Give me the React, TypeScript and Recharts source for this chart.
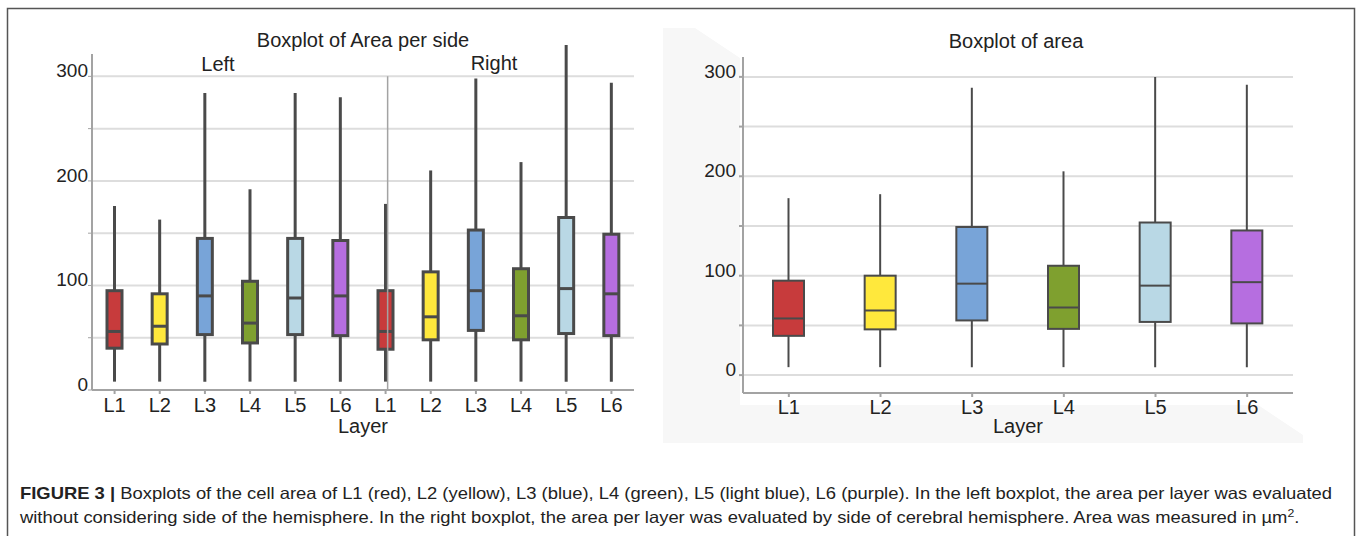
import React from "react";
import {
  Bar,
  CartesianGrid,
  ComposedChart,
  ReferenceLine,
  XAxis,
  YAxis,
} from "recharts";

// Five-number summaries of cell area (µm²) per cortical layer.
const layers = ["L1", "L2", "L3", "L4", "L5", "L6"];
const sides = ["Left", "Right"];

const leftSideMin = [8, 8, 8, 8, 8, 8];
const leftSideQ1 = [40, 44, 53, 45, 53, 52];
const leftSideMedian = [56, 61, 90, 64, 88, 90];
const leftSideQ3 = [95, 92, 145, 104, 145, 143];
const leftSideMax = [176, 163, 284, 192, 284, 280];

const rightSideMin = [8, 8, 8, 8, 8, 8];
const rightSideQ1 = [39, 48, 57, 48, 54, 52];
const rightSideMedian = [56, 70, 95, 71, 97, 92];
const rightSideQ3 = [95, 113, 153, 116, 165, 149];
const rightSideMax = [178, 210, 298, 218, 330, 294];

const pooledMin = [8, 8, 8, 8, 8, 8];
const pooledQ1 = [39.5, 46, 55, 46.5, 53.5, 52];
const pooledMedian = [57, 65, 92, 68, 90, 93.5];
const pooledQ3 = [95, 100, 149, 110, 153.5, 145.5];
const pooledMax = [178, 182, 289, 205, 300, 292];

const gridTicks = [0, 50, 100, 150, 200, 250, 300];

const layerColors = ["#c73b3c", "#ffe83c", "#78a4d8", "#7fa02f", "#b9d8e5", "#b66ee0"];
const ink = "#222";
const outline = "#4a4a4a";
const axisGray = "#a3a3a3";
const gridGray = "#dddddd";

type BoxRow = { key: string; layer: string; min: number; q1: number; median: number; q3: number; max: number };

const summarize = (
  prefix: string,
  min: number[],
  q1: number[],
  median: number[],
  q3: number[],
  max: number[]
): BoxRow[] =>
  layers.map((layer, i) => ({
    key: `${prefix}${layer}`,
    layer,
    min: min[i],
    q1: q1[i],
    median: median[i],
    q3: q3[i],
    max: max[i],
  }));

const perSideData = [
  ...summarize(`${sides[0]}-`, leftSideMin, leftSideQ1, leftSideMedian, leftSideQ3, leftSideMax),
  ...summarize(`${sides[1]}-`, rightSideMin, rightSideQ1, rightSideMedian, rightSideQ3, rightSideMax),
];
const pooledData = summarize("", pooledMin, pooledQ1, pooledMedian, pooledQ3, pooledMax);

// The bar spans min..max; the box and median are placed inside it by the
// same pixels-per-unit the axis gives the whisker.
const boxShape = (lineWidth: number) => (props: any) => {
  const { x, y, width, height, payload, index } = props;
  const { min, q1, median, q3, max } = payload as BoxRow;
  const k = Math.abs(height) / (max - min);
  const top = Math.min(y, y + height);
  const py = (v: number) => top + (max - v) * k;
  const cx = x + width / 2;
  return (
    <g>
      <line x1={cx} x2={cx} y1={py(max)} y2={py(min)} stroke={outline} strokeWidth={lineWidth} />
      <rect
        x={x}
        y={py(q3)}
        width={width}
        height={py(q1) - py(q3)}
        fill={layerColors[index % layerColors.length]}
        stroke={outline}
        strokeWidth={lineWidth}
      />
      <line x1={x} x2={x + width} y1={py(median)} y2={py(median)} stroke={outline} strokeWidth={lineWidth} />
    </g>
  );
};

const yTick = (props: any) => {
  const { x, y, payload } = props;
  if (payload.value % 100 !== 0) return <g />;
  return (
    <text x={x} y={y} dy={1} textAnchor="end" fontSize={19} fill={ink}>
      {payload.value}
    </text>
  );
};

const titleStyle: React.CSSProperties = {
  position: "absolute",
  transform: "translate(-50%, -50%)",
  fontSize: 20,
  color: ink,
  whiteSpace: "nowrap",
};

export default function App() {
  return (
    <div
      style={{
        position: "absolute",
        left: 0,
        top: 0,
        width: 1357,
        height: 536,
        background: "#fff",
        fontFamily: "'Liberation Sans', Arial, Helvetica, sans-serif",
        overflow: "hidden",
      }}
    >
      <svg width={1357} height={536} style={{ position: "absolute", left: 0, top: 0 }}>
        <polygon
          points="663,28 695,28 740,58 740,405 1258,405 1303,435 1303,443 663,443"
          fill="#f7f7f7"
        />
        <path d="M7.5,536 V8.5 H1354.5 V536" fill="none" stroke="#555" strokeWidth={1.5} />
      </svg>

      <div style={{ position: "absolute", left: 0, top: 0 }}>
        <ComposedChart width={680} height={450} data={perSideData} margin={{ top: 45, right: 46, bottom: 15, left: 0 }}>
          <CartesianGrid vertical={false} syncWithTicks stroke={gridGray} strokeWidth={2} />
          <XAxis
            dataKey="key"
            tickFormatter={(v: string) => v.split("-")[1]}
            interval={0}
            height={45}
            stroke={axisGray}
            strokeWidth={2}
            tickSize={4}
            tickMargin={4}
            tick={{ fill: ink, fontSize: 20 }}
            label={{ value: "Layer", position: "insideBottom", offset: 2, fill: ink, fontSize: 20 }}
          />
          <XAxis xAxisId="edge" type="number" domain={[0, 12]} hide />
          <YAxis
            type="number"
            domain={[0, 330]}
            ticks={gridTicks}
            width={92}
            axisLine={false}
            tickLine={{ stroke: axisGray }}
            tickSize={4}
            tickMargin={0}
            tick={yTick}
          />
          <ReferenceLine
            xAxisId="edge"
            segment={[{ x: 0, y: 0 }, { x: 0, y: 321.5 }]}
            stroke={axisGray}
            strokeWidth={2}
          />
          <ReferenceLine
            xAxisId="edge"
            segment={[{ x: 6, y: 0 }, { x: 6, y: 300 }]}
            stroke={axisGray}
            strokeWidth={1.5}
          />
          <Bar
            dataKey={(d: BoxRow) => [d.min, d.max]}
            barSize={15}
            shape={boxShape(3)}
            isAnimationActive={false}
          />
        </ComposedChart>
      </div>

      <div style={{ position: "absolute", left: 650, top: 0 }}>
        <ComposedChart width={680} height={450} data={pooledData} margin={{ top: 57, right: 37, bottom: 12, left: 0 }}>
          <CartesianGrid vertical={false} syncWithTicks stroke={gridGray} strokeWidth={2} />
          <XAxis
            dataKey="layer"
            interval={0}
            height={45}
            stroke={axisGray}
            strokeWidth={2}
            tickSize={4}
            tickMargin={3}
            tick={{ fill: ink, fontSize: 20 }}
            label={{ value: "Layer", position: "insideBottom", offset: 5, fill: ink, fontSize: 20 }}
          />
          <YAxis
            type="number"
            domain={[-18, 320]}
            ticks={gridTicks}
            width={93}
            stroke={axisGray}
            strokeWidth={2}
            tickSize={4}
            tickMargin={3}
            tick={yTick}
          />
          <Bar
            dataKey={(d: BoxRow) => [d.min, d.max]}
            barSize={31}
            shape={boxShape(2)}
            isAnimationActive={false}
          />
        </ComposedChart>
      </div>

      <div style={{ ...titleStyle, left: 363, top: 40 }}>Boxplot of Area per side</div>
      <div style={{ ...titleStyle, left: 218, top: 64 }}>{sides[0]}</div>
      <div style={{ ...titleStyle, left: 494, top: 63 }}>{sides[1]}</div>
      <div style={{ ...titleStyle, left: 1016, top: 41 }}>Boxplot of area</div>

      <div
        style={{
          position: "absolute",
          left: 20,
          top: 481,
          fontSize: 16.5,
          lineHeight: "24px",
          color: ink,
          whiteSpace: "nowrap",
          transform: "scaleX(1.115)",
          transformOrigin: "0 0",
        }}
      >
        <b>FIGURE 3 |</b> Boxplots of the cell area of L1 (red), L2 (yellow), L3 (blue), L4 (green), L5 (light
        blue), L6 (purple). In the left boxplot, the area per layer was evaluated
        <br />
        without considering side of the hemisphere. In the right boxplot, the area per layer was evaluated by side of
        cerebral hemisphere. Area was measured in µm<sup style={{ fontSize: 11, lineHeight: 0 }}>2</sup>.
      </div>
    </div>
  );
}
